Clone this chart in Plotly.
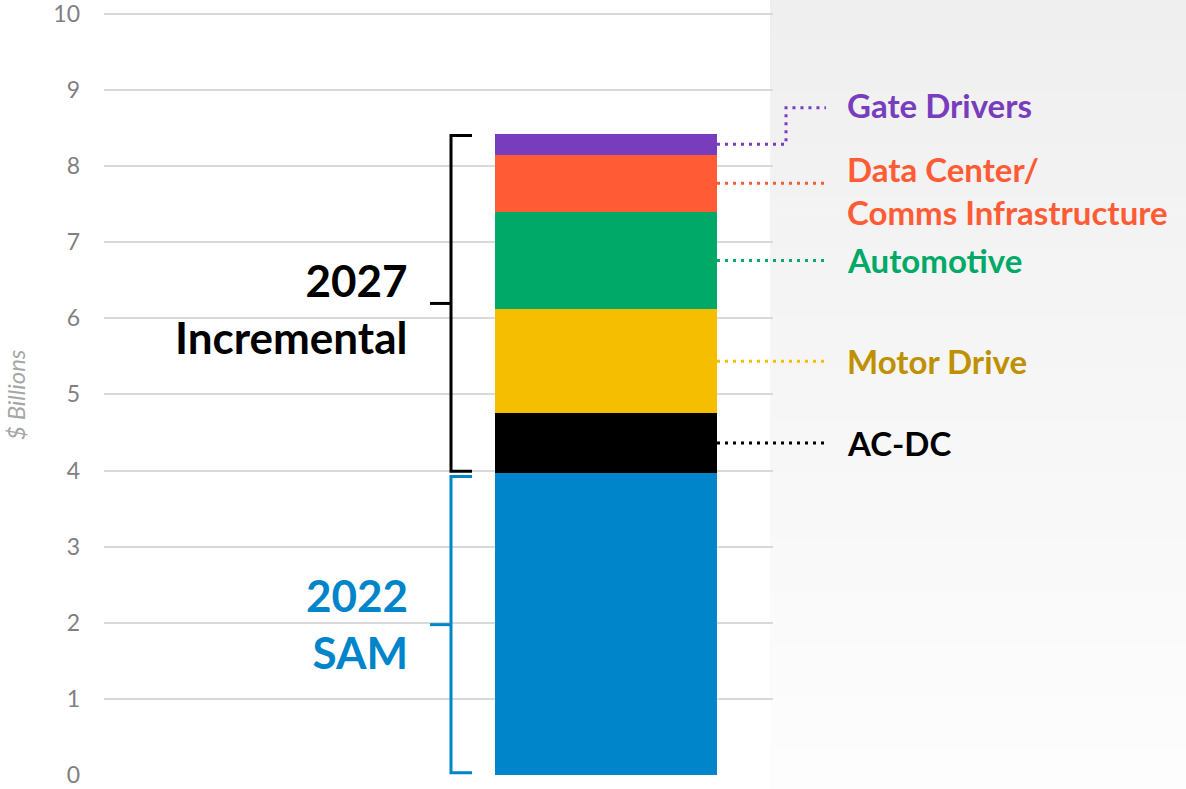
import plotly.graph_objects as go

# ---------------- data ----------------
segments = ["2022 SAM", "AC-DC", "Motor Drive", "Automotive",
            "Data Center/<br>Comms Infrastructure", "Gate Drivers"]
values = [3.97, 0.78, 1.37, 1.28, 0.75, 0.27]
bar_colors = ["#0085CA", "#000000", "#F5BE00", "#00A967", "#FF5B35", "#773DBD"]
label_colors = ["#0085CA", "#000000", "#BF9000", "#00A967", "#FF5B35", "#773DBD"]
y_ticks = [0, 1, 2, 3, 4, 5, 6, 7, 8, 9, 10]
y_title = "$ Billions"
group_labels = ["2022<br>SAM", "2027<br>Incremental"]

# ---------------- layout geometry (pixels) ----------------
W, H = 1186, 789
Y_MAX = 10.05
PX_PER_UNIT = 76.1
PL, PR, PB = 104, 773, 775
PT = PB - Y_MAX * PX_PER_UNIT
PW = PR - PL
X_LEFT = -0.7504
BAR_W = 0.3318


def px(xp):
    """pixel x -> paper x"""
    return (xp - PL) / PW


def py(yp):
    """pixel y -> paper y"""
    return (PB - yp) / (PB - PT)


fig = go.Figure()
for name, v, c in zip(segments, values, bar_colors):
    fig.add_trace(go.Bar(x=[0], y=[v], name=name.replace("<br>", " "),
                         marker=dict(color=c, line=dict(width=0)),
                         width=BAR_W, showlegend=False))

# cumulative values
cum = []
s = 0
for v in values:
    cum.append((s, s + v))
    s += v
total = s
sam = values[0]

shapes = []
# gradient panel on the right
n_bands = 60
top_rgb = (239, 239, 239)
bot_rgb = (253, 253, 253)
for i in range(n_bands):
    t = i / (n_bands - 1)
    r = [round(a + (b - a) * t) for a, b in zip(top_rgb, bot_rgb)]
    y0p = i * H / n_bands
    y1p = (i + 1) * H / n_bands + 0.5
    shapes.append(dict(type="rect", xref="paper", yref="paper",
                       x0=px(770), x1=px(W + 5), y0=py(y1p), y1=py(y0p),
                       fillcolor=f"rgb({r[0]},{r[1]},{r[2]})",
                       line=dict(width=0), layer="below"))

bar_right_px = 717
dot = dict(width=3, dash="3px,5px")

# leader lines (x in paper, y in data)
for i in range(1, 6):
    lo, hi = cum[i]
    mid = (lo + hi) / 2
    col = bar_colors[i]
    if i == 5:
        ybend = 8.765
        shapes.append(dict(type="path", xref="paper", yref="y",
                           path=f"M {px(bar_right_px)} {mid} L {px(786)} {mid} "
                                f"L {px(786)} {ybend} L {px(826)} {ybend}",
                           line=dict(color=col, **dot)))
    else:
        shapes.append(dict(type="line", xref="paper", yref="y",
                           x0=px(bar_right_px), x1=px(828), y0=mid, y1=mid,
                           line=dict(color=col, **dot)))


# brackets
def bracket(y_lo, y_hi, color):
    xv = px(451)
    xa = px(472)
    xt = px(430)
    ym = (y_lo + y_hi) / 2
    return [
        dict(type="path", xref="paper", yref="y",
             path=f"M {xa} {y_hi} L {xv} {y_hi} L {xv} {y_lo} L {xa} {y_lo}",
             line=dict(color=color, width=3)),
        dict(type="line", xref="paper", yref="y", x0=xt, x1=xv, y0=ym, y1=ym,
             line=dict(color=color, width=3)),
    ]


shapes += bracket(0.03, sam - 0.05, "#0085CA")
shapes += bracket(sam + 0.02, total - 0.02, "#000000")

annotations = []
FONT = "Lato, 'Open Sans', sans-serif"
label_y = {1: None, 2: None, 3: None, 4: 7.68, 5: 8.80}
for i in range(1, 6):
    lo, hi = cum[i]
    y = label_y[i] if label_y[i] is not None else (lo + hi) / 2
    annotations.append(dict(xref="paper", yref="y", x=px(845), y=y,
                            text=f"<b>{segments[i]}</b>", showarrow=False,
                            xanchor="left", yanchor="middle", align="left",
                            font=dict(family=FONT, size=33, color=label_colors[i])))

# group labels
annotations.append(dict(xref="paper", yref="y", x=px(410), y=sam / 2,
                        text=f"<b>{group_labels[0]}</b>", showarrow=False,
                        xanchor="right", yanchor="middle", align="right",
                        font=dict(family=FONT, size=44, color="#0085CA")))
annotations.append(dict(xref="paper", yref="y", x=px(410), y=(sam + total) / 2 - 0.06,
                        text=f"<b>{group_labels[1]}</b>", showarrow=False,
                        xanchor="right", yanchor="middle", align="right",
                        font=dict(family=FONT, size=44, color="#000000")))
# axis title
annotations.append(dict(xref="paper", yref="paper", x=px(16), y=py(395),
                        text=f"<i>{y_title}</i>", showarrow=False, textangle=-90,
                        xanchor="center", yanchor="middle",
                        font=dict(family=FONT, size=24, color="#A6A6A6")))

fig.update_layout(
    width=W, height=H,
    margin=dict(l=PL, r=W - PR, t=PT, b=H - PB, autoexpand=False),
    paper_bgcolor="white", plot_bgcolor="rgba(0,0,0,0)",
    barmode="stack", bargap=0,
    shapes=shapes, annotations=annotations,
    xaxis=dict(range=[X_LEFT, X_LEFT + 1], showgrid=False, zeroline=False,
               showticklabels=False, showline=False, fixedrange=True),
    yaxis=dict(range=[0, Y_MAX], tickvals=y_ticks, showgrid=True,
               gridcolor="#D9D9D9", gridwidth=2, zeroline=False, showline=False,
               tickfont=dict(family=FONT, size=23, color="#808080"),
               ticks="", ticklabelstandoff=23, ticklabeloverflow="allow",
               automargin=False),
    font=dict(family=FONT),
)

fig.write_html("out.html", post_script="document.body.style.margin='0';",
               config=dict(displayModeBar=False))
